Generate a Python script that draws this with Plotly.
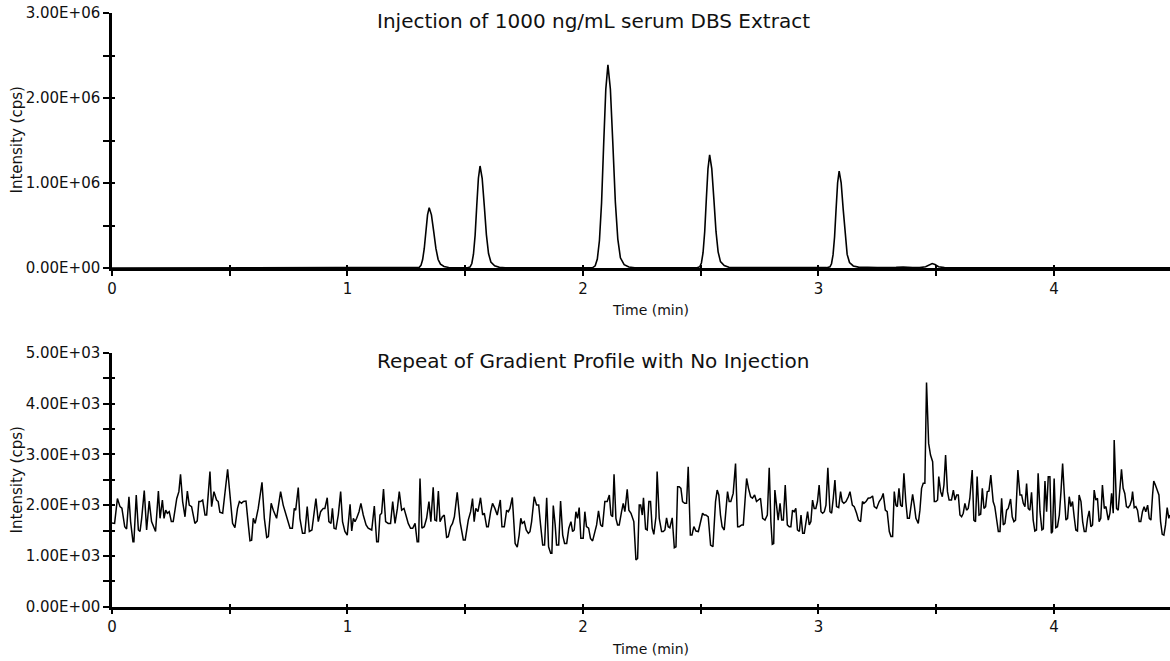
import plotly.graph_objects as go

# ---------------- data ----------------
# Top panel: chromatogram of 1000 ng/mL serum DBS extract (time in min, intensity in cps)
top_time = [0.0, 0.5, 1.0, 1.2, 1.29,
            1.305, 1.312, 1.319, 1.326, 1.333, 1.340, 1.347, 1.3565, 1.366, 1.3755, 1.385, 1.395, 1.41, 1.43, 1.46,
            1.51, 1.521, 1.528, 1.535, 1.542, 1.549, 1.556, 1.563, 1.572, 1.581, 1.590, 1.599, 1.609, 1.625, 1.645, 1.67,
            1.85, 2.04,
            2.052, 2.061, 2.070, 2.079, 2.088, 2.097, 2.106, 2.1165, 2.127, 2.1375, 2.148, 2.159, 2.175, 2.195, 2.22,
            2.35, 2.485,
            2.496, 2.503, 2.510, 2.517, 2.524, 2.531, 2.538, 2.547, 2.556, 2.565, 2.574, 2.584, 2.60, 2.62, 2.645,
            2.75, 2.86, 2.90, 2.94, 3.035,
            3.049, 3.0555, 3.062, 3.0685, 3.075, 3.0815, 3.088, 3.0965, 3.105, 3.1135, 3.122, 3.132, 3.148, 3.17, 3.19,
            3.21, 3.25, 3.33, 3.36, 3.40, 3.43,
            3.455, 3.47, 3.483, 3.495, 3.51, 3.535,
            3.7, 3.9, 4.1, 4.3, 4.5]
top_intensity = [0.0, 0.0, 2.0e3, 3.0e3, 3.0e3,
                 0.008e6, 0.031e6, 0.096e6, 0.227e6, 0.433e6, 0.625e6, 0.71e6, 0.625e6, 0.433e6, 0.23e6, 0.10e6, 0.045e6, 0.018e6, 0.006e6, 0.003e6,
                 0.003e6, 0.013e6, 0.053e6, 0.162e6, 0.384e6, 0.732e6, 1.056e6, 1.20e6, 1.056e6, 0.732e6, 0.39e6, 0.17e6, 0.07e6, 0.025e6, 0.008e6, 0.003e6,
                 2.0e3, 2.0e3,
                 0.026e6, 0.105e6, 0.323e6, 0.765e6, 1.458e6, 2.103e6, 2.39e6, 2.103e6, 1.458e6, 0.78e6, 0.34e6, 0.12e6, 0.04e6, 0.012e6, 0.003e6,
                 2.0e3, 3.0e3,
                 0.015e6, 0.059e6, 0.180e6, 0.426e6, 0.811e6, 1.170e6, 1.33e6, 1.170e6, 0.811e6, 0.43e6, 0.19e6, 0.075e6, 0.028e6, 0.009e6, 0.004e6,
                 0.004e6, 0.008e6, 0.010e6, 0.005e6, 0.004e6,
                 0.013e6, 0.05e6, 0.154e6, 0.365e6, 0.695e6, 1.003e6, 1.14e6, 1.003e6, 0.695e6, 0.37e6, 0.16e6, 0.065e6, 0.024e6, 0.010e6, 0.008e6,
                 0.012e6, 0.006e6, 0.008e6, 0.011e6, 0.006e6, 0.004e6,
                 0.015e6, 0.04e6, 0.052e6, 0.04e6, 0.015e6, 0.004e6,
                 0.004e6, 0.003e6, 0.003e6, 0.003e6, 0.003e6]

# Bottom panel: repeat of gradient profile with no injection (noise trace)
blank_time = [
    0.000, 0.011, 0.023, 0.034, 0.042, 0.054, 0.062, 0.072, 0.079, 0.089, 0.093, 0.103, 0.112, 0.119, 0.126, 0.137,
    0.147, 0.158, 0.168, 0.185, 0.197, 0.204, 0.214, 0.221, 0.228, 0.235, 0.243, 0.252, 0.260, 0.275, 0.284, 0.291,
    0.300, 0.310, 0.320, 0.328, 0.338, 0.352, 0.362, 0.369, 0.376, 0.385, 0.395, 0.402, 0.416, 0.423, 0.433, 0.444,
    0.451, 0.458, 0.470, 0.481, 0.491, 0.501, 0.512, 0.522, 0.533, 0.541, 0.550, 0.558, 0.569, 0.579, 0.586, 0.593,
    0.600, 0.608, 0.621, 0.637, 0.647, 0.657, 0.664, 0.676, 0.685, 0.699, 0.716, 0.727, 0.741, 0.756, 0.766, 0.774,
    0.780, 0.791, 0.798, 0.809, 0.819, 0.829, 0.838, 0.849, 0.866, 0.876, 0.886, 0.897,
    0.904, 0.914, 0.921, 0.930, 0.936, 0.943, 0.951, 0.961, 0.971, 0.979, 0.989, 0.999, 1.011, 1.018, 1.025, 1.032,
    1.039, 1.049, 1.057, 1.067, 1.079, 1.088, 1.103, 1.114, 1.124, 1.131, 1.138, 1.145, 1.153, 1.162, 1.173, 1.183,
    1.192, 1.202, 1.212, 1.220, 1.230, 1.240, 1.248, 1.258, 1.268, 1.277, 1.287, 1.296, 1.302, 1.308, 1.316, 1.326,
    1.336, 1.346, 1.354, 1.364, 1.371, 1.378, 1.386, 1.393, 1.403, 1.411, 1.421, 1.428, 1.438, 1.446, 1.454, 1.466,
    1.478, 1.492, 1.500, 1.513, 1.523, 1.531, 1.538, 1.545, 1.554, 1.565, 1.574, 1.581, 1.591, 1.598, 1.608, 1.616,
    1.626, 1.636, 1.649, 1.656, 1.666, 1.676, 1.683, 1.690, 1.700, 1.707, 1.712, 1.721, 1.729, 1.736, 1.742, 1.751,
    1.759, 1.768,
    1.775, 1.782, 1.793, 1.803, 1.812, 1.820, 1.829, 1.837, 1.846, 1.854, 1.863, 1.868, 1.874, 1.882, 1.888, 1.897,
    1.905, 1.914, 1.922, 1.931, 1.940, 1.949, 1.956, 1.963, 1.970, 1.977, 1.984, 1.991, 2.001, 2.008, 2.015, 2.024,
    2.032, 2.041, 2.051, 2.058, 2.066, 2.075, 2.083, 2.093, 2.103, 2.112, 2.119, 2.126, 2.132, 2.140, 2.147, 2.154,
    2.164, 2.171, 2.178, 2.188, 2.195, 2.204, 2.216, 2.225, 2.232, 2.239, 2.245, 2.252, 2.257, 2.266, 2.273, 2.280,
    2.287, 2.294, 2.301, 2.310, 2.315, 2.324, 2.334, 2.341, 2.348, 2.355, 2.362, 2.369, 2.379, 2.388, 2.395, 2.402,
    2.409, 2.416, 2.423, 2.432, 2.440, 2.447, 2.456, 2.463, 2.471, 2.480, 2.490, 2.499, 2.508, 2.515, 2.522, 2.532,
    2.542, 2.552, 2.563, 2.570, 2.577, 2.584, 2.591, 2.600, 2.607, 2.614, 2.621, 2.628, 2.638, 2.648, 2.657, 2.664,
    2.674, 2.681, 2.688, 2.695, 2.703, 2.712, 2.720, 2.729, 2.737, 2.746, 2.754, 2.763, 2.773, 2.783, 2.791, 2.798,
    2.804, 2.810, 2.815, 2.822, 2.829, 2.837, 2.844, 2.851, 2.859, 2.868, 2.876, 2.883, 2.890, 2.897, 2.904, 2.911,
    2.919, 2.926, 2.933, 2.940, 2.947, 2.954, 2.961, 2.968, 2.975, 2.982, 2.989, 2.996, 3.003, 3.011, 3.018, 3.025,
    3.032, 3.040, 3.049, 3.056, 3.063, 3.070, 3.077, 3.086, 3.094, 3.101, 3.108, 3.117, 3.127, 3.134, 3.144, 3.152,
    3.162, 3.170, 3.179, 3.187, 3.193, 3.202, 3.211, 3.221, 3.230, 3.237, 3.247, 3.258, 3.268, 3.275, 3.284, 3.292,
    3.301, 3.308, 3.315, 3.322, 3.329, 3.335, 3.342, 3.349, 3.356, 3.363, 3.371, 3.378, 3.386, 3.393, 3.400, 3.407,
    3.414, 3.424, 3.431, 3.438, 3.445, 3.452, 3.459, 3.468, 3.476, 3.485, 3.492, 3.499, 3.506, 3.511, 3.519, 3.526,
    3.533, 3.540, 3.548, 3.555,
    3.565, 3.573, 3.580, 3.587, 3.594, 3.601, 3.608, 3.615, 3.622, 3.629, 3.636, 3.643, 3.653, 3.660, 3.667, 3.674,
    3.682, 3.689, 3.696, 3.703, 3.710, 3.717, 3.724, 3.732, 3.742, 3.749, 3.757, 3.764, 3.771, 3.778, 3.785, 3.792,
    3.799, 3.806, 3.816, 3.823, 3.830, 3.837, 3.847, 3.856, 3.863, 3.870, 3.877, 3.884, 3.891, 3.898, 3.905, 3.912,
    3.919, 3.926, 3.933, 3.941, 3.949, 3.955, 3.962, 3.969, 3.976, 3.983, 3.989, 3.994, 4.001, 4.008, 4.015, 4.023,
    4.030, 4.037, 4.044, 4.051, 4.058, 4.065, 4.072, 4.079, 4.086, 4.093, 4.100, 4.107, 4.115, 4.122, 4.129, 4.136,
    4.143, 4.150, 4.157, 4.164, 4.171, 4.178, 4.185, 4.192, 4.199, 4.206, 4.214, 4.221, 4.231, 4.238, 4.245, 4.252,
    4.256, 4.266, 4.273, 4.280, 4.287, 4.294, 4.301, 4.308, 4.315, 4.323, 4.330, 4.334, 4.341, 4.348, 4.355, 4.362,
    4.369, 4.376, 4.383, 4.390, 4.398, 4.405, 4.412, 4.419, 4.424, 4.431, 4.439, 4.446, 4.453, 4.460, 4.467, 4.474,
    4.481, 4.488, 4.492]
blank_intensity = [
    1650, 1640, 2130, 1970, 1940, 1575, 1530, 2165, 1675, 1280, 1280, 2200, 1510, 1480, 1740, 2285,
    1510, 2080, 1675, 1480, 2275, 1740, 2100, 1740, 1900, 1840, 1870, 1675, 1675, 2130, 2265, 2605,
    2070, 1770, 2275, 2000, 1970, 1640, 1690, 2070, 2070, 2100, 1805, 1805, 2660, 1970, 2265, 2100,
    2070, 1860, 1840, 2250, 2705, 2200, 1640, 1555, 1935, 2070, 2035, 2070, 2080, 1610, 1300, 1310,
    1740, 1640, 1935, 2450, 1740, 1360, 1380, 2035, 1900, 1740, 2265, 2000, 1770, 1545, 1545, 1935,
    1900, 2345, 1740, 1445, 1445, 1970, 1480, 1510, 2130, 1675, 1870, 1935,
    1935, 2145, 1675, 1640, 1935, 1545, 1530, 1805, 2265, 1675, 1480, 1410, 2015, 1490, 1740, 1675,
    1740, 1870, 2035, 1805, 1610, 1545, 1510, 1980, 1280, 1280, 1805, 1840, 2315, 1675, 1640, 1640,
    2070, 1640, 1935, 2265, 1900, 1935, 1805, 1640, 1545, 1545, 1640, 1280, 1280, 2525, 1545, 1575,
    1740, 2070, 1675, 2350, 1705, 1690, 2275, 1675, 1770, 1805, 1365, 1380, 1575, 1640, 1770, 2250,
    1675, 1315, 1315, 1705, 1870, 2130, 1675, 1935, 1870, 2145, 1805, 1840, 1575, 1575, 1870, 2035,
    1935, 1805, 2100, 1575, 1575, 1900, 1870, 1935, 2150, 1510, 1245, 1170, 1410, 1740, 1640, 1675,
    1510, 1445,
    1477, 1675, 2165, 2000, 2000, 1610, 1215, 1215, 2145, 1180, 1050, 1050, 1990, 1610, 1215, 1215,
    2080, 1410, 1245, 1245, 1545, 1675, 1480, 1510, 1870, 1740, 1950, 1345, 1345, 1870, 1575, 1545,
    1345, 1295, 1480, 1610, 1885, 1610, 1575, 2070, 2070, 2200, 1805, 1770, 2605, 1740, 1610, 1610,
    1870, 2035, 1870, 2310, 1900, 1840, 1675, 920, 950, 2000, 2000, 1805, 2145, 1530, 1510, 2070,
    2070, 1545, 1425, 1770, 2660, 1740, 1480, 1480, 1510, 1750, 1575, 1555, 1750, 1160, 1180, 2360,
    2360, 2330, 2070, 2035, 2035, 2755, 1410, 1410, 1575, 1490, 1480, 1675, 1840, 1805, 1805, 1770,
    1215, 1180, 2070, 2295, 2200, 1805, 1575, 1510, 1935, 2265, 2070, 2070, 2230, 2820, 1575, 1575,
    1610, 1610, 2070, 2525, 2330, 2165, 2135, 2200, 2070, 2100, 2135, 1740, 1705, 1805, 2735, 1675,
    1230, 1245, 2295, 2000, 1705, 2035, 1705, 1705, 2395, 1610, 1575, 1575, 1900, 1870, 1935, 1510,
    1480, 1805, 1445, 1445, 1675, 1870, 1610, 1675, 2100, 1935, 1935, 2070, 2395, 1870, 1840, 1870,
    2000, 2735, 1870, 1840, 2135, 2495, 1970, 1950, 2265, 2070, 2035, 2070, 2165, 2265, 2000, 1970,
    1840, 1705, 1675, 2070, 2035, 2070, 2135, 2145, 2180, 1970, 1935, 2070, 2135, 2230, 1900, 1870,
    1480, 1380, 1380, 2265, 2000, 1970, 2330, 2000, 1970, 2625, 2070, 1740, 1740, 1970, 2210, 2000,
    1740, 1640, 1900, 2330, 2430, 2430, 4415, 3215, 2985, 2855, 2070, 2070, 2100, 2560, 2265, 2165,
    2395, 2985, 2265, 2100,
    2100, 2295, 2100, 2200, 2200, 1805, 1770, 1840, 2035, 1900, 1935, 2135, 2690, 1705, 1675, 2560,
    1805, 1820, 2330, 1935, 1970, 2265, 2275, 2590, 2070, 1970, 1740, 1480, 1480, 2135, 1610, 1640,
    1900, 1935, 2120, 1770, 1675, 1705, 2690, 2200, 2200, 2035, 1970, 2425, 1935, 1900, 2250, 1705,
    1490, 1510, 2625, 1870, 1510, 1530, 2475, 1870, 2560, 2560, 1445, 1480, 2525, 1555, 1575, 1805,
    2265, 2820, 2230, 1705, 1740, 2165, 1970, 2070, 1770, 1510, 1490, 2200, 2070, 1675, 1480, 1480,
    1740, 1885, 1575, 1610, 2295, 2100, 2135, 1675, 1740, 2395, 1935, 1970, 1705, 1840, 2230, 1840,
    3280, 1935, 1900, 2330, 2705, 2330, 2230, 1970, 1950, 2000, 2100, 2265, 1950, 1970, 1900, 1675,
    1675, 1870, 1970, 1870, 2000, 1740, 1705, 2200, 2475, 2395, 2295, 2200, 1675, 1425, 1410, 1610,
    1950, 1740, 1805]

# axis ticks / labels
x_tickvals = [0, 0.5, 1, 1.5, 2, 2.5, 3, 3.5, 4, 4.5]
x_ticktext = ["0", "", "1", "", "2", "", "3", "", "4", ""]
top_y_tickvals = [0, 0.5e6, 1.0e6, 1.5e6, 2.0e6, 2.5e6, 3.0e6]
top_y_ticktext = ["0.00E+00", "", "1.00E+06", "", "2.00E+06", "", "3.00E+06"]
bot_y_tickvals = [0, 500, 1000, 1500, 2000, 2500, 3000, 3500, 4000, 4500, 5000]
bot_y_ticktext = ["0.00E+00", "", "1.00E+03", "", "2.00E+03", "", "3.00E+03", "", "4.00E+03", "", "5.00E+03"]

top_title = "Injection of 1000 ng/mL serum DBS Extract"
bot_title = "Repeat of Gradient Profile with No Injection"
x_title = "Time (min)"
y_title = "Intensity (cps)"

# ---------------- figure ----------------
W, H = 1170, 661
ML = 112
FONT = "DejaVu Sans"
XMAX = 4.493
top_dom = [1 - 268 / H, 1 - 13 / H]
bot_dom = [1 - 606.7 / H, 1 - 352.7 / H]

fig = go.Figure()
fig.add_trace(go.Scatter(x=top_time, y=top_intensity, mode="lines",
                         line=dict(color="black", width=1.6), xaxis="x", yaxis="y",
                         showlegend=False))
fig.add_trace(go.Scatter(x=blank_time, y=blank_intensity, mode="lines",
                         line=dict(color="black", width=1.5), xaxis="x2", yaxis="y2",
                         showlegend=False))
# empty traces to activate the "inside" tick overlay axes
fig.add_trace(go.Scatter(x=[None], y=[None], xaxis="x3", yaxis="y3", showlegend=False, hoverinfo="skip"))
fig.add_trace(go.Scatter(x=[None], y=[None], xaxis="x4", yaxis="y4", showlegend=False, hoverinfo="skip"))


def xax(anchor, ticks, ticklen, labels, line):
    return dict(range=[0, XMAX], anchor=anchor, tickvals=x_tickvals, ticktext=x_ticktext,
                ticks=ticks, ticklen=ticklen, tickwidth=2, tickcolor="black",
                showticklabels=labels, tickfont=dict(family=FONT, size=15, color="#111"),
                showgrid=False, zeroline=False,
                showline=line, linecolor="black", linewidth=2.5, fixedrange=True)


def yax(anchor, dom, rng, vals, text, ticks, ticklen, labels, line):
    return dict(range=rng, domain=dom, anchor=anchor, tickvals=vals, ticktext=text,
                ticks=ticks, ticklen=ticklen, tickwidth=2, tickcolor="black",
                showticklabels=labels, tickfont=dict(family=FONT, size=15, color="#111"),
                showgrid=False, zeroline=False,
                showline=line, linecolor="black", linewidth=2.5, fixedrange=True)


fig.update_layout(
    width=W, height=H,
    margin=dict(l=ML, r=0, t=0, b=0, autoexpand=False),
    paper_bgcolor="white", plot_bgcolor="white",
    font=dict(family=FONT, color="#111", size=15),
    xaxis=xax("y", "outside", 5, True, True),
    yaxis=yax("x", top_dom, [0, 3.0e6], top_y_tickvals, top_y_ticktext, "outside", 6, True, True),
    xaxis2=xax("y2", "outside", 5, True, True),
    yaxis2=yax("x2", bot_dom, [0, 5000], bot_y_tickvals, bot_y_ticktext, "outside", 6, True, True),
    xaxis3=dict(xax("y", "inside", 3, False, False), overlaying="x"),
    yaxis3=dict(yax("x", top_dom, [0, 3.0e6], top_y_tickvals, top_y_ticktext, "inside", 3, False, False), overlaying="y"),
    xaxis4=dict(xax("y2", "inside", 3, False, False), overlaying="x2"),
    yaxis4=dict(yax("x2", bot_dom, [0, 5000], bot_y_tickvals, bot_y_ticktext, "inside", 3, False, False), overlaying="y2"),
)


def px_x(p):
    return (p - ML) / (W - ML)


def px_y(p):
    return 1 - p / H


ann = []
ann.append(dict(text=top_title, x=px_x(593), y=px_y(21), font=dict(family=FONT, size=20, color="#111")))
ann.append(dict(text=bot_title, x=px_x(593), y=px_y(361), font=dict(family=FONT, size=20, color="#111")))
ann.append(dict(text=x_title, x=px_x(650), y=px_y(310), font=dict(family=FONT, size=14, color="#111")))
ann.append(dict(text=x_title, x=px_x(650), y=px_y(649), font=dict(family=FONT, size=14, color="#111")))
ann.append(dict(text=y_title, x=px_x(16.5), y=px_y(140), textangle=-90, font=dict(family=FONT, size=15, color="#111")))
ann.append(dict(text=y_title, x=px_x(16.5), y=px_y(480), textangle=-90, font=dict(family=FONT, size=15, color="#111")))
for a in ann:
    a.update(xref="paper", yref="paper", showarrow=False, xanchor="center", yanchor="middle")
fig.update_layout(annotations=ann)

fig.write_html("out.html")
